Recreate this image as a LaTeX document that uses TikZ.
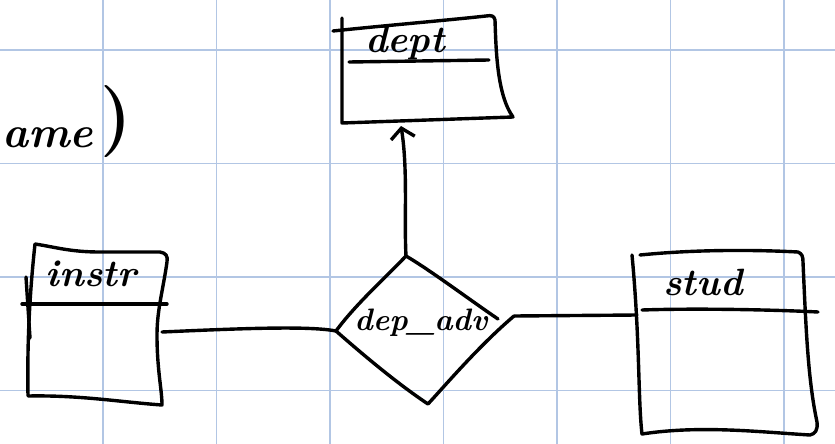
\documentclass[tikz,border=0pt]{standalone}
\usetikzlibrary{arrows.meta}
\definecolor{gridblue}{RGB}{178,198,228}
\begin{document}
\begin{tikzpicture}[x=1pt,y=-1pt,
  gridline/.style={draw=gridblue,line width=1.3pt},
  pen/.style={draw=black,line width=3.4pt,line cap=round,line join=round},
  lbl/.style={font=\fontsize{38}{38}\selectfont\bfseries\itshape,inner sep=0pt}]
\useasboundingbox (0,0) rectangle (835,444);
\clip (0,0) rectangle (835,444);
\fill[white] (0,0) rectangle (835,444);
\foreach \gx in {103,216.5,330,443.5,557,670.5,784} \draw[gridline] (\gx,0) -- (\gx,444);
\foreach \gy in {50,163.5,277,390.5} \draw[gridline] (0,\gy) -- (835,\gy);

% partial text at left
\node[font=\fontsize{44}{44}\selectfont\bfseries\itshape,anchor=base west,inner sep=0pt] (nm) at (2,147) {ame\,\raisebox{8pt}{\fontsize{72}{72}\selectfont\upshape)}};

% dept
\draw[pen] (333,31) .. controls (380,26) and (450,20) .. (486,16) .. controls (492,15) and (494,16) .. (495,20) .. controls (496,50) and (497,95) .. (513,117) -- (342,123) -- (342,18);
\draw[pen] (349,62) -- (489,60);
\node[lbl] (dept) at (405,43) {dept};
\coordinate (dbottom) at (401,126);

% relationship diamond
\coordinate (dtop) at (406,256);
\coordinate (dleft) at (336,331);
\coordinate (dbot) at (428,404);
\coordinate (dright) at (514,316);
\draw[pen] (dtop) .. controls (385,278) and (355,305) .. (dleft)
  .. controls (360,352) and (395,382) .. (dbot)
  .. controls (450,380) and (480,345) .. (dright);
\draw[pen] (dtop) .. controls (430,270) and (470,300) .. (498,319);
\node[lbl,font=\fontsize{31}{31}\selectfont\bfseries\itshape] (rel) at (421,323) {dep\_adv};

% instr
\draw[pen] (35,244) .. controls (55,247) and (70,252) .. (100,252) -- (160,252) .. controls (166,253) and (168,256) .. (167,262) .. controls (163,290) and (157,310) .. (157,335) .. controls (157,370) and (162,390) .. (162,405) .. controls (120,402) and (80,395) .. (28,396) .. controls (27,340) and (30,290) .. (35,244);
\draw[pen] (22,304) -- (167,304);
\draw[pen] (26,277) -- (30,338);
\node[lbl] (inst) at (91,274) {instr};
\coordinate (iright) at (162,332);

% stud
\draw[pen] (640,255) .. controls (700,249) and (760,250) .. (798,252) .. controls (802,254) and (803,256) .. (803,262) .. controls (806,330) and (808,380) .. (817,422) .. controls (818,430) and (815,434) .. (810,435) .. controls (760,432) and (700,425) .. (642,434) .. controls (638,400) and (640,340) .. (632,255);
\draw[pen] (642,310) .. controls (700,308) and (780,310) .. (818,312);
\node[lbl] (stud) at (703,282) {stud};
\coordinate (sleft) at (637,315);

% connectors
\draw[pen] (iright) .. controls (250,328) and (310,326) .. (dleft);
\draw[pen] (dright) -- (sleft);
\draw[pen,-{Straight Barb[length=10pt,width=24pt]}] (dtop) .. controls (404,220) and (408,170) .. (dbottom);
\end{tikzpicture}
\end{document}
